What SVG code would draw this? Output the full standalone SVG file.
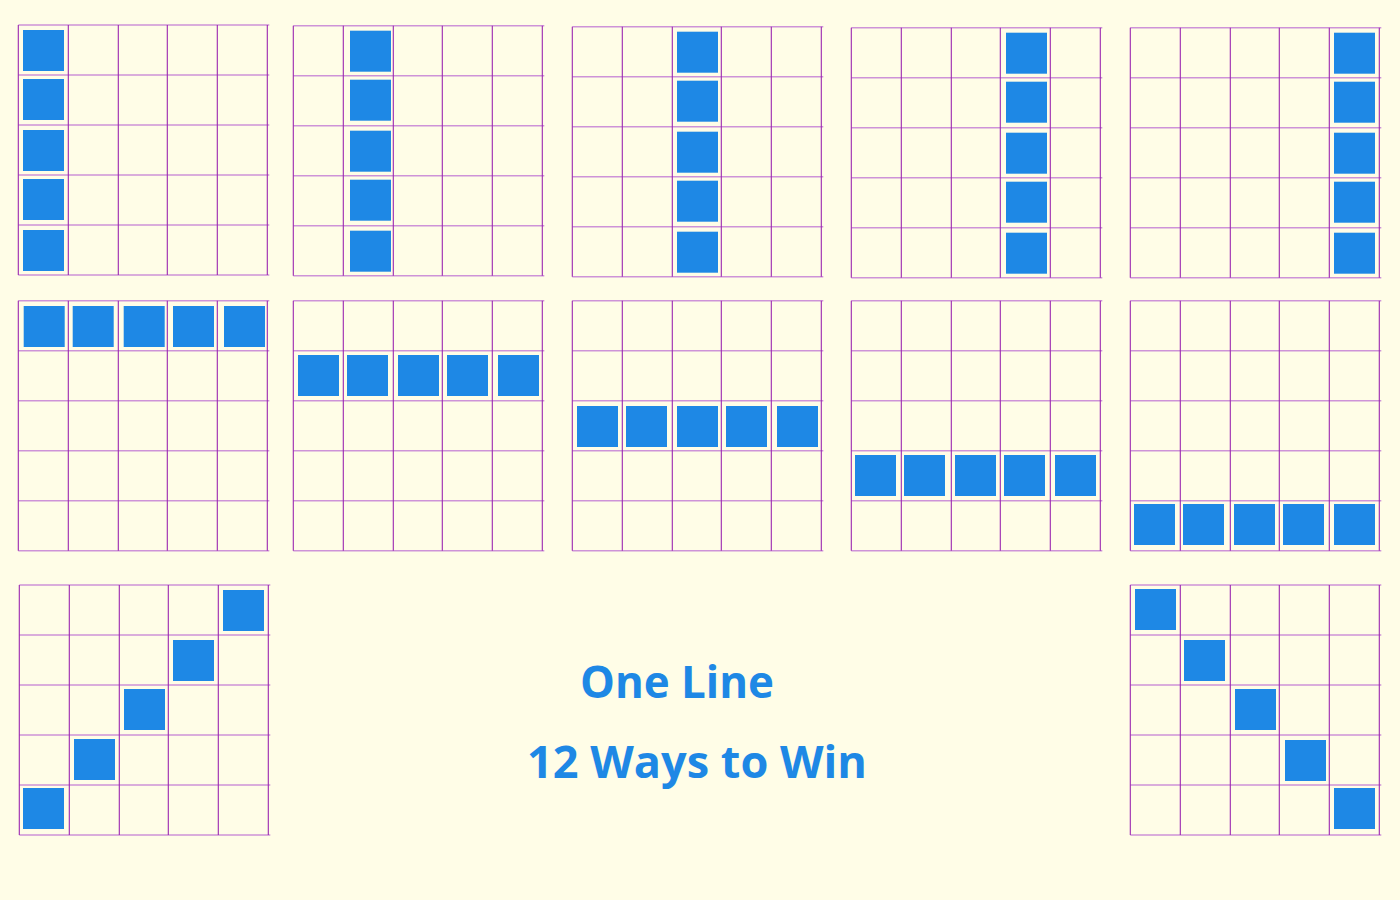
<svg xmlns="http://www.w3.org/2000/svg" width="1400" height="900" viewBox="0 0 1400 900">
<defs>
<style>
.h{stroke:#ce93d8;stroke-width:1.6;fill:none}
.v{stroke:#9c27b0;stroke-width:1.1;fill:none}
.s{fill:#1e88e5}
.t{font-family:"Comic Sans MS","Open Sans","Liberation Sans",sans-serif;font-weight:bold;font-size:44px;fill:#1e88e5}
</style>
<g id="grid">
<path class="h" d="M0 0H251M0 50H251M0 100H251M0 150H251M0 200H251M0 250H251"/>
<path class="v" d="M0 0V250M50 0V250M100 0V250M149 0V250M199 0V250M249 0V250"/>
</g>
</defs>
<rect width="1400" height="900" fill="#fffde7"/>
<g id="board1" transform="translate(18.3,25)">
<use href="#grid"/>
<rect class="s" x="4.7" y="5" width="41" height="41"/>
<rect class="s" x="4.7" y="54" width="41" height="41"/>
<rect class="s" x="4.7" y="105" width="41" height="41"/>
<rect class="s" x="4.7" y="154" width="41" height="41"/>
<rect class="s" x="4.7" y="205" width="41" height="41"/>
</g>
<g id="board2" transform="translate(293.3,25.7)">
<use href="#grid"/>
<rect class="s" x="56.7" y="5" width="41" height="41"/>
<rect class="s" x="56.7" y="54" width="41" height="41"/>
<rect class="s" x="56.7" y="105" width="41" height="41"/>
<rect class="s" x="56.7" y="154" width="41" height="41"/>
<rect class="s" x="56.7" y="205" width="41" height="41"/>
</g>
<g id="board3" transform="translate(572.3,26.7)">
<use href="#grid"/>
<rect class="s" x="104.7" y="5" width="41" height="41"/>
<rect class="s" x="104.7" y="54" width="41" height="41"/>
<rect class="s" x="104.7" y="105" width="41" height="41"/>
<rect class="s" x="104.7" y="154" width="41" height="41"/>
<rect class="s" x="104.7" y="205" width="41" height="41"/>
</g>
<g id="board4" transform="translate(851.3,27.7)">
<use href="#grid"/>
<rect class="s" x="154.7" y="5" width="41" height="41"/>
<rect class="s" x="154.7" y="54" width="41" height="41"/>
<rect class="s" x="154.7" y="105" width="41" height="41"/>
<rect class="s" x="154.7" y="154" width="41" height="41"/>
<rect class="s" x="154.7" y="205" width="41" height="41"/>
</g>
<g id="board5" transform="translate(1130.3,27.7)">
<use href="#grid"/>
<rect class="s" x="203.7" y="5" width="41" height="41"/>
<rect class="s" x="203.7" y="54" width="41" height="41"/>
<rect class="s" x="203.7" y="105" width="41" height="41"/>
<rect class="s" x="203.7" y="154" width="41" height="41"/>
<rect class="s" x="203.7" y="205" width="41" height="41"/>
</g>
<g id="board6" transform="translate(18.3,300.7)">
<use href="#grid"/>
<rect class="s" x="5.4" y="5.3" width="41" height="41"/>
<rect class="s" x="54.4" y="5.3" width="41" height="41"/>
<rect class="s" x="105.4" y="5.3" width="41" height="41"/>
<rect class="s" x="154.7" y="5.3" width="41" height="41"/>
<rect class="s" x="205.7" y="5.3" width="41" height="41"/>
</g>
<g id="board7" transform="translate(293.3,300.7)">
<use href="#grid"/>
<rect class="s" x="4.7" y="54.3" width="41" height="41"/>
<rect class="s" x="53.7" y="54.3" width="41" height="41"/>
<rect class="s" x="104.7" y="54.3" width="41" height="41"/>
<rect class="s" x="153.7" y="54.3" width="41" height="41"/>
<rect class="s" x="204.7" y="54.3" width="41" height="41"/>
</g>
<g id="board8" transform="translate(572.3,300.7)">
<use href="#grid"/>
<rect class="s" x="4.7" y="105.3" width="41" height="41"/>
<rect class="s" x="53.7" y="105.3" width="41" height="41"/>
<rect class="s" x="104.7" y="105.3" width="41" height="41"/>
<rect class="s" x="153.7" y="105.3" width="41" height="41"/>
<rect class="s" x="204.7" y="105.3" width="41" height="41"/>
</g>
<g id="board9" transform="translate(851.3,300.7)">
<use href="#grid"/>
<rect class="s" x="3.7" y="154.3" width="41" height="41"/>
<rect class="s" x="52.7" y="154.3" width="41" height="41"/>
<rect class="s" x="103.7" y="154.3" width="41" height="41"/>
<rect class="s" x="152.7" y="154.3" width="41" height="41"/>
<rect class="s" x="203.7" y="154.3" width="41" height="41"/>
</g>
<g id="board10" transform="translate(1130.3,300.7)">
<use href="#grid"/>
<rect class="s" x="3.7" y="203.3" width="41" height="41"/>
<rect class="s" x="52.7" y="203.3" width="41" height="41"/>
<rect class="s" x="103.7" y="203.3" width="41" height="41"/>
<rect class="s" x="152.7" y="203.3" width="41" height="41"/>
<rect class="s" x="203.7" y="203.3" width="41" height="41"/>
</g>
<g id="board11" transform="translate(19.3,585)">
<use href="#grid"/>
<rect class="s" x="203.7" y="5" width="41" height="41"/>
<rect class="s" x="153.7" y="55" width="41" height="41"/>
<rect class="s" x="104.7" y="104" width="41" height="41"/>
<rect class="s" x="54.7" y="154" width="41" height="41"/>
<rect class="s" x="3.7" y="203" width="41" height="41"/>
</g>
<g id="board12" transform="translate(1130.3,585)">
<use href="#grid"/>
<rect class="s" x="4.7" y="4" width="41" height="41"/>
<rect class="s" x="53.7" y="55" width="41" height="41"/>
<rect class="s" x="104.7" y="104" width="41" height="41"/>
<rect class="s" x="154.7" y="155" width="41" height="41"/>
<rect class="s" x="203.7" y="203" width="41" height="41"/>
</g>
<g id="title">
<text class="t" x="580" y="698" textLength="194" lengthAdjust="spacingAndGlyphs">One Line</text>
<text class="t" x="527" y="778" textLength="340" lengthAdjust="spacingAndGlyphs">12 Ways to Win</text>
</g>
</svg>
